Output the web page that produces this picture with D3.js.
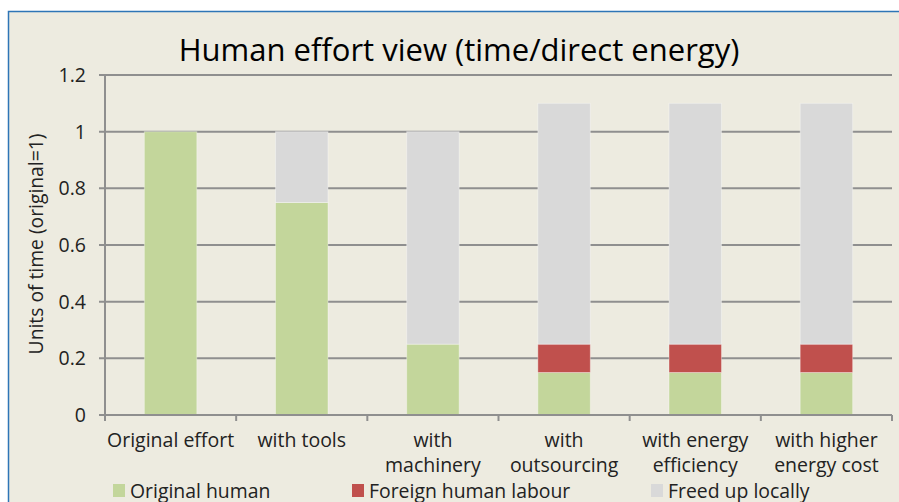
<!DOCTYPE html>
<html><head><meta charset="utf-8">
<script src="https://cdn.jsdelivr.net/npm/d3@7"></script>
<style>
html,body{margin:0;padding:0;background:#fff;}
svg{display:block;}
text{font-family:"Open Sans","Noto Sans",sans-serif;}
</style></head>
<body>
<script>
const categories = [["Original effort"],["with tools"],["with","machinery"],["with","outsourcing"],["with energy","efficiency"],["with higher","energy cost"]];
const originalHuman = [1, 0.75, 0.25, 0.15, 0.15, 0.15];
const foreignLabour = [0, 0, 0, 0.1, 0.1, 0.1];
const freedUp = [0, 0.25, 0.75, 0.85, 0.85, 0.85];
const seriesNames = ["Original human","Foreign human labour","Freed up locally"];
const seriesColors = ["#c3d69b","#c0504d","#d9d9d9"];
const yTicks = [0,0.2,0.4,0.6,0.8,1,1.2];
const title = "Human effort view (time/direct energy)";
const yLabel = "Units of time (original=1)";

const W = 899, H = 502;
const svg = d3.select("body").append("svg").attr("width",W).attr("height",H);
svg.append("rect").attr("x",8.5).attr("y",11.5).attr("width",W).attr("height",H)
  .attr("fill","#edebe0").attr("stroke","#2e75b6").attr("stroke-width",1.5);

const m = {l:105, r:892, t:75, b:415};
const x = d3.scaleBand().domain(d3.range(categories.length)).range([m.l,m.r]).paddingInner(0.6).paddingOuter(0.3);
const y = d3.scaleLinear().domain([0,1.2]).range([m.b,m.t]);

// gridlines
svg.append("g").selectAll("line").data(yTicks).join("line")
  .attr("x1",m.l-6).attr("x2",m.r).attr("y1",d=>y(d)).attr("y2",d=>y(d))
  .attr("stroke","#8f8f8f").attr("stroke-width",2);

// stacked data
const rows = categories.map((c,i)=>({i, a:originalHuman[i], b:foreignLabour[i], c:freedUp[i]}));
const stack = d3.stack().keys(["a","b","c"])(rows);
svg.append("g").selectAll("g").data(stack).join("g").attr("fill",(d,k)=>seriesColors[k])
  .selectAll("rect").data(d=>d).join("rect")
  .attr("x",d=>x(d.data.i)).attr("width",x.bandwidth())
  .attr("y",d=>y(d[1])).attr("height",d=>Math.max(0,y(d[0])-y(d[1])))
  .attr("stroke","rgba(255,255,255,0.35)").attr("stroke-width",1);

// y axis line
svg.append("line").attr("x1",m.l).attr("x2",m.l).attr("y1",m.t).attr("y2",m.b)
  .attr("stroke","#8f8f8f").attr("stroke-width",2);
// x axis
svg.append("line").attr("x1",m.l).attr("x2",m.r).attr("y1",m.b).attr("y2",m.b)
  .attr("stroke","#8f8f8f").attr("stroke-width",2);
const step = (m.r-m.l)/categories.length;
svg.append("g").selectAll("line").data(d3.range(categories.length+1)).join("line")
  .attr("x1",d=>m.l+d*step).attr("x2",d=>m.l+d*step).attr("y1",m.b).attr("y2",m.b+6)
  .attr("stroke","#8f8f8f").attr("stroke-width",2);

// y tick labels
svg.append("g").selectAll("text").data(yTicks).join("text")
  .attr("x",86).attr("y",d=>y(d)).attr("dy","0.36em").attr("text-anchor","end")
  .attr("font-size",19.5).attr("fill","#222").text(d=>d3.format("~g")(d));

// x labels
const xl = svg.append("g").selectAll("text").data(categories).join("text")
  .attr("text-anchor","middle").attr("font-size",19.5).attr("fill","#222")
  .attr("transform",(d,i)=>`translate(${x(i)+x.bandwidth()/2},447)`);
xl.selectAll("tspan").data(d=>d).join("tspan").attr("x",0).attr("y",(d,j)=>j*25).text(d=>d);

// y label
svg.append("text").attr("transform","translate(43,244) rotate(-90)").attr("text-anchor","middle")
  .attr("font-size",19.3).attr("fill","#222").text(yLabel);

// title
svg.append("text").attr("x",459).attr("y",61).attr("text-anchor","middle")
  .attr("font-size",31).attr("fill","#000").text(title);

// legend
const legX = [113,352,651];
const lg = svg.append("g").selectAll("g").data(seriesNames).join("g")
  .attr("transform",(d,i)=>`translate(${legX[i]},484)`);
lg.append("rect").attr("width",12).attr("height",13).attr("fill",(d,i)=>seriesColors[i]);
lg.append("text").attr("x",17).attr("y",13.5).attr("font-size",19.4).attr("fill","#222").text(d=>d);
</script>
</body></html>
